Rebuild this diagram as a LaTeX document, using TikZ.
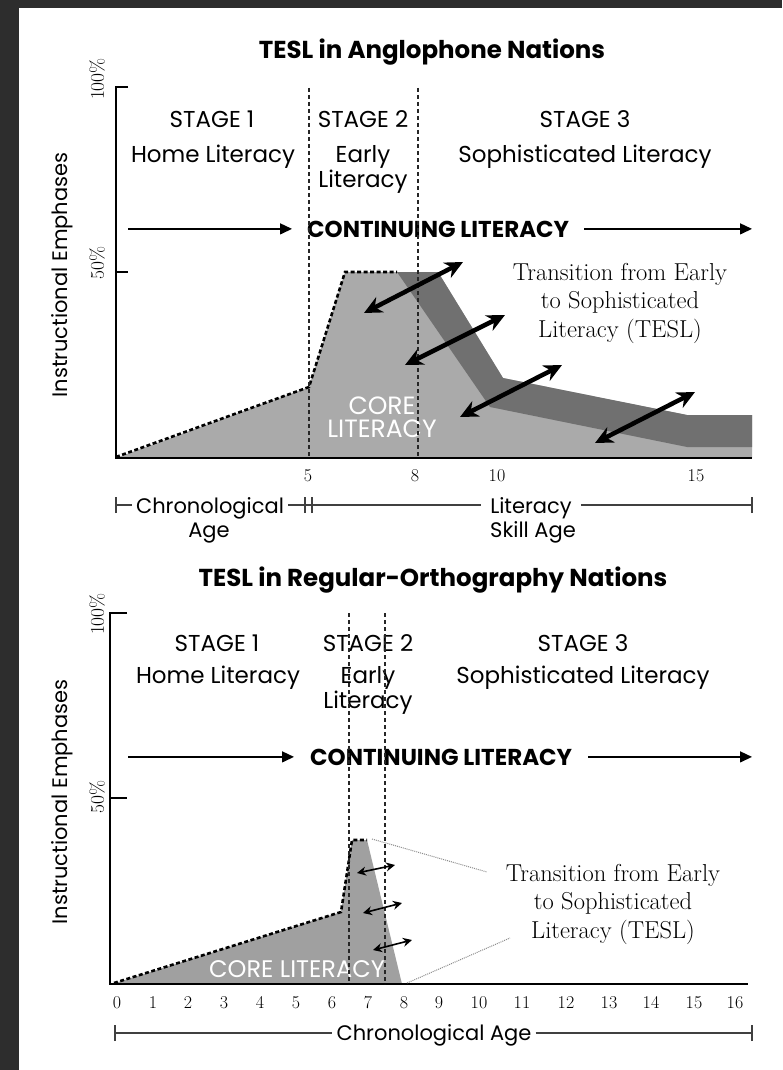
\documentclass[tikz,border=0pt]{standalone}
\usepackage{fontspec}
\usepackage{tikz}
\usetikzlibrary{arrows.meta,positioning}
\newfontfamily\gothic{Poppins}
\definecolor{framegray}{RGB}{45,45,45}
\definecolor{corelight}{RGB}{170,170,170}
\definecolor{tesldark}{RGB}{112,112,112}
\definecolor{coremid}{RGB}{160,160,160}
\definecolor{leadergray}{RGB}{140,140,140}

\tikzset{
  stagelbl/.style={anchor=base, inner sep=0pt, font=\gothic\fontsize{23}{26}\selectfont},
  titlelbl/.style={anchor=base, inner sep=0pt, font=\gothic\bfseries\fontsize{24.5}{28}\selectfont},
  contlbl/.style={anchor=base west, inner xsep=15pt, inner ysep=0pt, font=\gothic\bfseries\fontsize{23}{26}\selectfont},
  corelbl/.style={anchor=base, inner sep=0pt, text=white, font=\gothic\fontsize{25}{26}\selectfont},
  agelbl/.style={anchor=base, inner xsep=4pt, inner ysep=0pt, font=\gothic\fontsize{21}{24}\selectfont},
  axislbl/.style={rotate=90, inner sep=0pt, font=\gothic\fontsize{21}{24}\selectfont},
  pctlbl/.style={rotate=90, inner sep=0pt, font=\fontsize{19.5}{22}\selectfont},
  ticklbl/.style={anchor=base, inner sep=0pt, font=\fontsize{18}{20}\selectfont},
  tesllbl/.style={align=center, inner sep=0pt, font=\fontsize{24.5}{28.5}\selectfont\addfontfeatures{FakeStretch=1.12}},
  stageline/.style={dash pattern=on 4pt off 3pt, line width=1.3pt, black!85},
  coreline/.style={line width=2.6pt, dash pattern=on 4pt off 2.5pt},
  axisline/.style={line width=2.4pt},
  contarrow/.style={-{Triangle[length=12pt,width=11pt]}, line width=1.4pt},
  teslarrow/.style={{Stealth[length=18pt,width=17pt]}-{Stealth[length=18pt,width=17pt]}, line width=4.5pt},
  smallarrow/.style={{Stealth[length=9pt,width=9pt]}-{Stealth[length=9pt,width=9pt]}, line width=1.6pt},
  bracketline/.style={line width=1.2pt, black!75},
  leaderline/.style={densely dotted, line width=1pt, leadergray},
}

\begin{document}
\begin{tikzpicture}[x=1pt, y=-1pt]
\useasboundingbox (0,0) rectangle (782,1070);
\fill[framegray] (0,0) rectangle (782,1070);
\fill[white] (19,8) rectangle (782,1070);

% ---------- upper chart: Anglophone nations ----------
\node[titlelbl] (title1) at (432,59) {TESL in Anglophone Nations};

\fill[corelight] (116,458) -- (309,387) -- (345,272) -- (438,272) -- (503,378)
  -- (687,415) -- (752,415) -- (752,458) -- cycle;
\fill[tesldark] (397,272) -- (438,272) -- (503,378) -- (687,415) -- (752,415)
  -- (752,447) -- (687,447) -- (490,407) -- cycle;
\draw[coreline] (116,457) -- (309,387) -- (345,272) -- (397,272);

\draw[axisline] (128,87) -- (116,87) -- (116,458) -- (752,458);
\draw[axisline] (116,272) -- (128,272);
\node[pctlbl] (top100) at (97,79) {100\%};
\node[pctlbl] (top50) at (97,263) {50\%};
\node[axislbl] (yaxis1) at (62,275) {Instructional Emphases};

\node[stagelbl] (s1a) at (212,128) {STAGE 1};
\node[stagelbl] (s1b) at (213,162) {Home Literacy};
\node[stagelbl] (s2a) at (363,128) {STAGE 2};
\node[stagelbl] (s2b) at (363,162) {Early};
\node[stagelbl] (s2c) at (363,187) {Literacy};
\node[stagelbl] (s3a) at (585,128) {STAGE 3};
\node[stagelbl] (s3b) at (585,162) {Sophisticated Literacy};

\coordinate (c1start) at (128,226);
\coordinate (c1end) at (752,226);
\node[contlbl] (cont1) at (292,237) {CONTINUING LITERACY};
\draw[contarrow] (c1start |- cont1.west) -- (cont1.west);
\draw[contarrow] (cont1.east) -- (cont1.east -| c1end);

\node[corelbl] (core1a) at (382,414) {CORE};
\node[corelbl] (core1b) at (382,437) {LITERACY};

\draw[stageline] (309,88) -- (309,458);
\draw[stageline] (418,88) -- (418,458);

\node[tesllbl] (tesl1) at (620,303) {Transition from Early\\to Sophisticated\\Literacy (TESL)};

\coordinate (a1a) at (364,313); \coordinate (a1b) at (463,262);
\coordinate (a2a) at (405,365); \coordinate (a2b) at (505,315);
\coordinate (a3a) at (460,417); \coordinate (a3b) at (562,365);
\coordinate (a4a) at (595,443); \coordinate (a4b) at (695,392);
\foreach \k in {1,...,4}
  \draw[teslarrow] (a\k a) -- (a\k b);

\node[ticklbl] (tk5) at (308,481) {5};
\node[ticklbl] (tk8) at (415,481) {8};
\node[ticklbl] (tk10) at (497,481) {10};
\node[ticklbl] (tk15) at (696,481) {15};

\coordinate (br1l) at (116,505);
\coordinate (br1m) at (305,505);
\coordinate (br1n) at (312,505);
\coordinate (br1r) at (752,505);
\node[agelbl] (chrono1) at (210,513) {Chronological};
\node[agelbl] (age1) at (209,537) {Age};
\node[agelbl, inner xsep=9pt] (lit1) at (531,513) {Literacy};
\node[agelbl] (skill1) at (533,537) {Skill Age};
\draw[bracketline] (br1l) -- (br1l -| chrono1.west);
\draw[bracketline] (br1l -| chrono1.east) -- (br1n);
\draw[bracketline] (br1n) -- (br1n -| lit1.west);
\draw[bracketline] (br1r -| lit1.east) -- (br1r);
\foreach \p in {br1l,br1m,br1n,br1r}
  \draw[bracketline] ([yshift=-8pt]\p) -- ([yshift=8pt]\p);

% ---------- lower chart: regular-orthography nations ----------
\node[titlelbl] (title2) at (433,586) {TESL in Regular-Orthography Nations};

\fill[coremid] (112,984) -- (341,912) -- (352,840) -- (367,840) -- (402,984) -- cycle;
\draw[coreline] (114,983) -- (341,912) -- (352,840) -- (367,840);

\draw[axisline] (127,613) -- (110,613) -- (110,984) -- (748,984);
\draw[axisline] (110,798) -- (127,798);
\node[pctlbl] (bot100) at (97,614) {100\%};
\node[pctlbl] (bot50) at (97,797) {50\%};
\node[axislbl] (yaxis2) at (62,802) {Instructional Emphases};

\node[stagelbl] (t1a) at (217,651) {STAGE 1};
\node[stagelbl] (t1b) at (218,683) {Home Literacy};
\node[stagelbl] (t2a) at (368,651) {STAGE 2};
\node[stagelbl] (t2b) at (368,683) {Early};
\node[stagelbl] (t2c) at (368,708) {Literacy};
\node[stagelbl] (t3a) at (583,651) {STAGE 3};
\node[stagelbl] (t3b) at (583,683) {Sophisticated Literacy};

\coordinate (c2start) at (128,755);
\coordinate (c2end) at (752,755);
\node[contlbl, inner xsep=16pt] (cont2) at (294,765) {CONTINUING LITERACY};
\draw[contarrow] (c2start |- cont2.west) -- (cont2.west);
\draw[contarrow] (cont2.east) -- (cont2.east -| c2end);

\node[corelbl, font=\gothic\fontsize{24}{26}\selectfont] (core2) at (297,977) {CORE LITERACY};

\draw[stageline] (349,613) -- (349,984);
\draw[stageline] (385,613) -- (385,984);

\node[tesllbl] (tesl2) at (613,904) {Transition from Early\\to Sophisticated\\Literacy (TESL)};
\coordinate (ld1a) at (372,839); \coordinate (ld1b) at (487,872);
\coordinate (ld2a) at (407,983); \coordinate (ld2b) at (510,938);
\draw[leaderline] (ld1a) -- (ld1b);
\draw[leaderline] (ld2a) -- (ld2b);

\coordinate (b1a) at (357,873); \coordinate (b1b) at (395,865);
\coordinate (b2a) at (363,913); \coordinate (b2b) at (402,903);
\coordinate (b3a) at (373,950); \coordinate (b3b) at (412,940);
\foreach \k in {1,2,3}
  \draw[smallarrow] (b\k a) -- (b\k b);

\foreach \n/\x in {0/117,1/153,2/188,3/224,4/260,5/296,6/332,7/368,8/404,
    9/439,10/479,11/522,12/566,13/609,14/651,15/694,16/735}
  \node[ticklbl] (age\n) at (\x,1008) {\n};

\coordinate (br2l) at (115,1033);
\coordinate (br2r) at (752,1033);
\node[agelbl] (chrono2) at (434,1040) {Chronological Age};
\draw[bracketline] (br2l) -- (br2l -| chrono2.west);
\draw[bracketline] (br2r -| chrono2.east) -- (br2r);
\foreach \p in {br2l,br2r}
  \draw[bracketline] ([yshift=-8pt]\p) -- ([yshift=8pt]\p);
\end{tikzpicture}
\end{document}
